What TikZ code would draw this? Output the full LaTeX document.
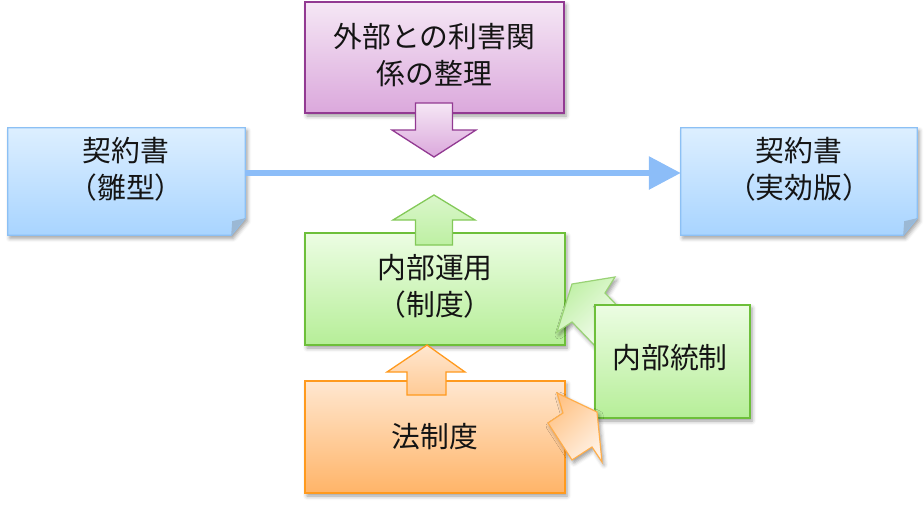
\documentclass[tikz,border=0pt]{standalone}
\usepackage{fontspec}
\setmainfont{Noto Sans CJK JP}
\usetikzlibrary{shadows.blur,arrows.meta,calc}
\definecolor{docT}{HTML}{DDEFFF}
\definecolor{docB}{HTML}{A8D4FF}
\definecolor{docD}{HTML}{8CC0F4}
\definecolor{foldc}{HTML}{9BB8D4}
\definecolor{purT}{HTML}{F5E7F5}
\definecolor{purB}{HTML}{DBA8DC}
\definecolor{purD}{HTML}{923A92}
\definecolor{grnT}{HTML}{ECFDE3}
\definecolor{grnB}{HTML}{B6EE98}
\definecolor{grnD}{HTML}{6DBF3A}
\definecolor{oraT}{HTML}{FFE7D0}
\definecolor{oraB}{HTML}{FFB468}
\definecolor{oraD}{HTML}{FF9A1E}
\definecolor{flowc}{HTML}{8CBDF8}
\definecolor{textc}{HTML}{141414}
\begin{document}
\begin{tikzpicture}[x=1pt,y=-1pt,
  shad/.style={blur shadow={shadow xshift=2pt,shadow yshift=-3pt,shadow blur radius=4pt,shadow opacity=40}},
  box/.style={draw, line width=1.3pt, inner sep=0pt, shad},
  purbox/.style={box, draw=purD, top color=purT, bottom color=purB},
  grnbox/.style={box, draw=grnD, top color=grnT, bottom color=grnB},
  orabox/.style={box, draw=oraD, top color=oraT, bottom color=oraB},
  docframe/.style={draw=none, minimum width=#1, minimum height=107pt, inner sep=0pt},
  docbody/.style={draw=docD, line width=1.3pt, top color=docT, bottom color=docB, shad},
  txt/.style={align=center, font=\fontsize{28.8}{37}\selectfont, text=textc, inner sep=0pt},
  flow/.style={draw=flowc, line width=6pt, -{Triangle[length=32pt,width=32pt]}},
  purarrow/.style={draw=purD, line width=1.3pt, top color=purT, bottom color=purB},
  grnarrow/.style={draw=grnD!85, line width=1.3pt, top color=grnB!50, bottom color=grnB!90},
  oraarrow/.style={draw=oraD, line width=1.3pt, top color=oraT, bottom color=oraB!70},
  grndiag/.style={draw=grnD!70, line width=1.2pt, shading=axis, left color=grnB!85, right color=white, shading angle=45, shad},
  oradiag/.style={draw=oraD!80, line width=1.2pt, shading=axis, left color=oraB!80, right color=oraT!60, shading angle=45, shad}
]
\useasboundingbox (0,0) rectangle (924,506);

% document boxes
\node[docframe=237pt] (L) at (126.5,181.5) {};
\node[docframe=236pt] (R) at (799,181.5) {};
\foreach \n in {L,R}{
  \path[docbody] (\n.north west) -- (\n.north east) -- ($(\n.south east)+(0,-17)$)
     -- ($(\n.south east)+(-14,0)$) -- (\n.south west) -- cycle;
  \fill[foldc] ($(\n.south east)+(0,-17)$) -- ($(\n.south east)+(-13,-14)$)
     -- ($(\n.south east)+(-14,0)$) -- cycle;
}
\node[txt] (Lt) at (126,169) {契約書\\（雛型）};
\node[txt] (Rt) at (799,169) {契約書\\（実効版）};

% flow line
\draw[flow] ([yshift=8.5pt]L.east) -- ([yshift=8.5pt]R.west);

% purple box
\node[purbox, minimum width=259pt, minimum height=111pt] (P) at (434.5,57.5) {};
\node[txt] (Pt) at (434.5,55) {外部との利害関\\係の整理};
\path[purarrow] (415.5,103) -- (452.5,103) -- (452.5,130) -- (476,130) -- (434,157)
   -- (392,130) -- (415.5,130) -- cycle;

% internal operation box
\node[grnbox, minimum width=260pt, minimum height=112pt] (G) at (435,289) {};
\node[txt] (Gt) at (435,286.5) {内部運用\\（制度）};
\path[grnarrow] (415.5,245) -- (452.5,245) -- (452.5,220) -- (475,220) -- (434,195)
   -- (393,220) -- (415.5,220) -- cycle;

% law box
\node[orabox, minimum width=260pt, minimum height=112pt] (O) at (435,437) {};
\node[txt] (Ot) at (435,437) {法制度};
\path[oraarrow] (407,395) -- (446,395) -- (446,372) -- (465,372) -- (427,345)
   -- (387,372) -- (407,372) -- cycle;

% green diagonal arrow (under internal control box)
\path[grndiag] (572,284) -- (615,277) -- (605,293) -- (633,322) -- (600,351)
   -- (572,322) -- (557,332) -- cycle;

% internal control box
\node[grnbox, minimum width=155pt, minimum height=113pt] (C) at (672.5,361.5) {};
\node[txt] (Ct) at (670,358) {内部統制};

% orange diagonal arrow
\path[oradiag] (557,393) -- (597,412) -- (602,462) -- (592,447) -- (572,460)
   -- (548,423) -- (563,413) -- cycle;
\end{tikzpicture}
\end{document}
